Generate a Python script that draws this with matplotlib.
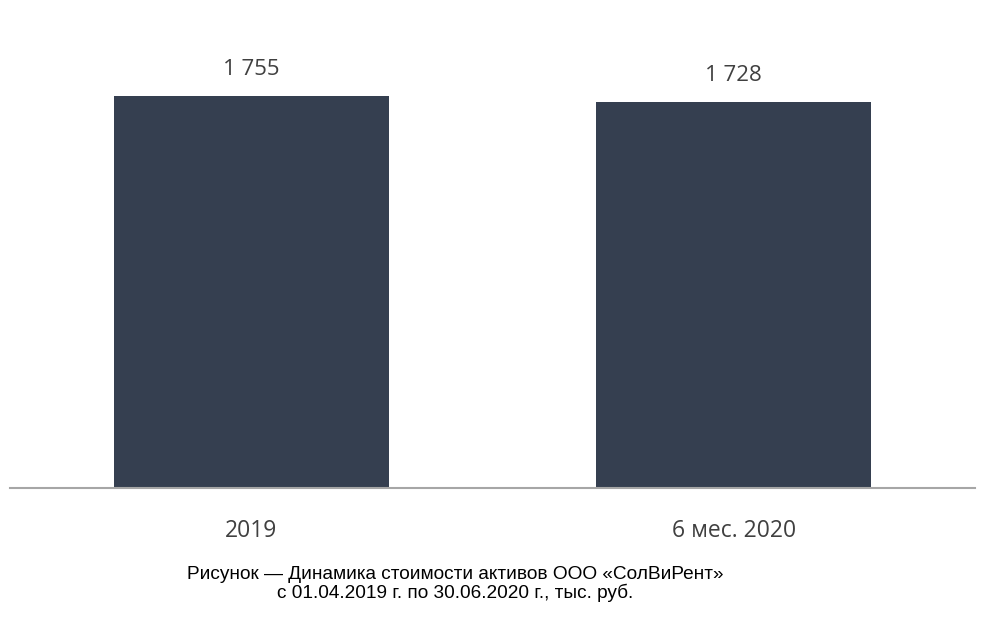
import matplotlib.pyplot as plt

categories = ['2019', '6 мес. 2020']
values = [1755, 1728]
value_labels = ['1 755', '1 728']

fig = plt.figure(figsize=(9.89, 6.33), dpi=100)
ax = fig.add_axes([10/989, 145/633, 965/989, 458/633])

x = range(len(categories))
ax.bar(x, values, width=0.57, color='#353F50')
for xi, v, lab in zip(x, values, value_labels):
    ax.text(xi, v + 72, lab, ha='center', va='bottom', fontsize=16,
            family='Open Sans', color='#404040')

ax.set_xlim(-0.5, 1.5)
ax.set_ylim(0, 2050)
ax.set_yticks([])
ax.set_xticks(list(x))
ax.set_xticklabels(categories, fontsize=16.5, family='Open Sans', color='#404040')
ax.tick_params(axis='x', length=0, pad=22)
for s in ['top', 'left', 'right']:
    ax.spines[s].set_visible(False)
ax.spines['bottom'].set_color('#A6A6A6')
ax.spines['bottom'].set_linewidth(1.5)

fig.text(455/989, 1 - 584/633,
         'Рисунок — Динамика стоимости активов ООО «СолВиРент»\nс 01.04.2019 г. по 30.06.2020 г., тыс. руб.',
         ha='center', va='center', fontsize=13.7, family='Liberation Sans',
         color='black', linespacing=0.98)

fig.savefig('out.png', dpi=100)
